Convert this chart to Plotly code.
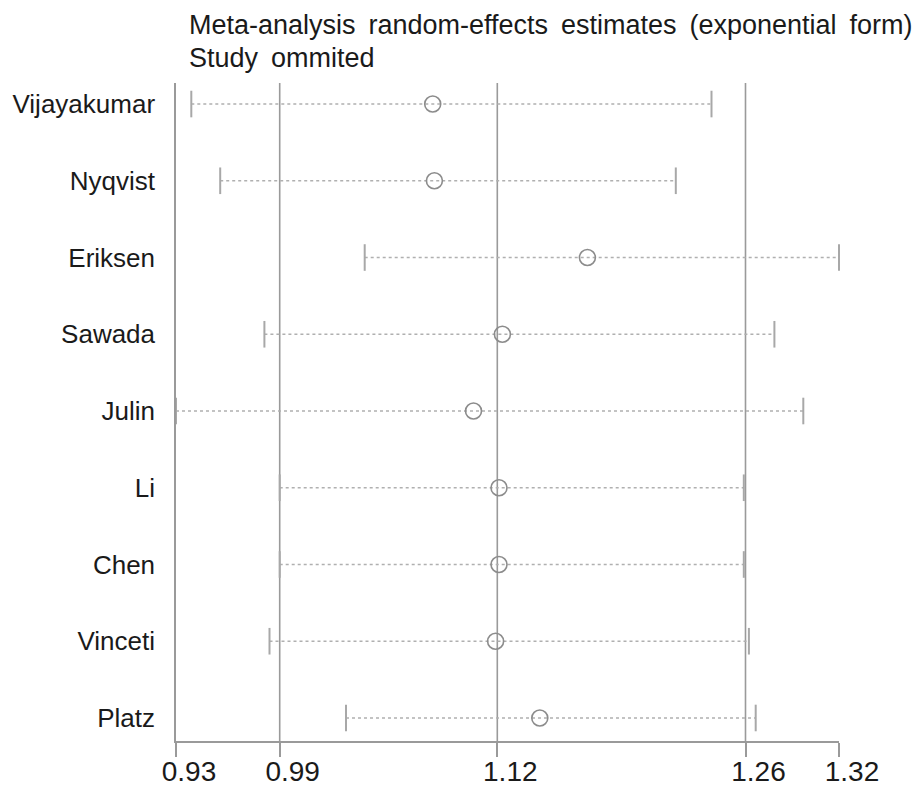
import plotly.graph_objects as go

studies = ["Vijayakumar", "Nyqvist", "Eriksen", "Sawada", "Julin",
           "Li", "Chen", "Vinceti", "Platz"]
estimate = [1.081, 1.082, 1.172, 1.122, 1.105, 1.120, 1.120, 1.118, 1.144]
lower = [0.939, 0.956, 1.041, 0.982, 0.930, 0.991, 0.991, 0.985, 1.030]
upper = [1.245, 1.224, 1.320, 1.282, 1.299, 1.264, 1.264, 1.267, 1.271]
overall = [0.991, 1.119, 1.265]  # lower CI, estimate, upper CI
tick_labels = ["0.93", "0.99", "1.12", "1.26", "1.32"]
title_lines = ["Meta-analysis random-effects estimates (exponential form)",
               "Study ommited"]

tick_vals = [min(lower)] + overall + [max(upper)]
ypos = list(range(len(studies)))

FONT = "Liberation Sans, Arial, sans-serif"
GRAY = "#9a9a9a"
TOP, BOTTOM = 83, 741

fig = go.Figure()

# dotted CI lines
lx, ly = [], []
for i, (lo, hi) in enumerate(zip(lower, upper)):
    lx += [lo, hi, None]
    ly += [i, i, None]
fig.add_trace(go.Scatter(x=lx, y=ly, mode="lines",
                         line=dict(color="#b0b0b0", width=1.6, dash="dot"),
                         hoverinfo="skip", showlegend=False))

# CI caps
fig.add_trace(go.Scatter(x=lower + upper, y=ypos + ypos, mode="markers",
                         marker=dict(symbol="line-ns", size=19,
                                     line=dict(color="#a8a8a8", width=2)),
                         cliponaxis=False, showlegend=False))

# estimates
fig.add_trace(go.Scatter(x=estimate, y=ypos, mode="markers",
                         marker=dict(symbol="circle-open", size=16,
                                     color="#8c8c8c",
                                     line=dict(color="#8c8c8c", width=1.6)),
                         cliponaxis=False, showlegend=False))

# overall lines
for v in overall:
    fig.add_shape(type="line", xref="x", yref="paper", x0=v, x1=v, y0=0, y1=1,
                  line=dict(color=GRAY, width=1.6), layer="below")

# title lines (Stata-style wide word spacing)
for text, ypx in zip(title_lines, [25, 58]):
    fig.add_annotation(text=text.replace(" ", " \u2009"), xref="paper", yref="paper",
                       x=(187 - 176) / (839 - 176), y=(BOTTOM - ypx) / (BOTTOM - TOP),
                       xanchor="left", yanchor="middle", showarrow=False,
                       font=dict(family=FONT, size=27, color="#1a1a1a"))

fig.update_layout(
    width=918, height=787,
    margin=dict(l=176, r=79, t=TOP, b=787 - BOTTOM),
    paper_bgcolor="white", plot_bgcolor="white",
    font=dict(family=FONT, size=26, color="#1a1a1a"),
    xaxis=dict(range=[0.93, 1.32], tickvals=tick_vals, ticktext=tick_labels,
               showgrid=False, zeroline=False, showline=True, linecolor=GRAY,
               linewidth=1.5, ticks="outside", ticklen=14, tickcolor=GRAY,
               tickwidth=1.5, ticklabelshift=13, ticklabelstandoff=-9,
               automargin=False,
               tickfont=dict(family=FONT, size=28, color="#1a1a1a")),
    yaxis=dict(range=[8.30, -0.274], tickvals=ypos, ticktext=studies,
               showgrid=False, zeroline=False, showline=True, linecolor=GRAY,
               linewidth=1.5, ticks="", ticklabelstandoff=14, automargin=False,
               tickfont=dict(family=FONT, size=26, color="#1a1a1a")),
)

fig.write_html("out.html")
